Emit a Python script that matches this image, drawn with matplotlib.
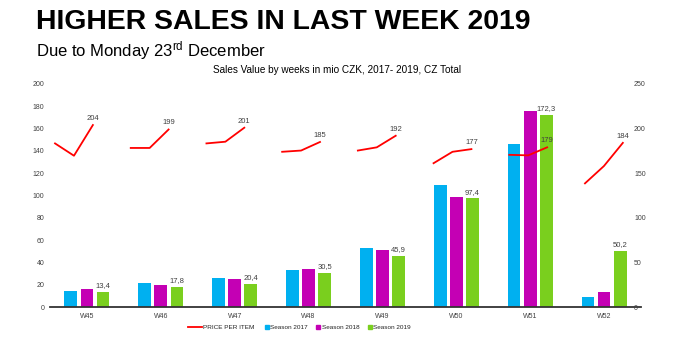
import matplotlib
matplotlib.use("Agg")
import matplotlib.pyplot as plt
from matplotlib.lines import Line2D
import numpy as np

plt.rcParams["font.family"] = ["Liberation Sans", "DejaVu Sans"]
plt.rcParams["mathtext.default"] = "regular"

weeks = ["W45", "W46", "W47", "W48", "W49", "W50", "W51", "W52"]
sales_2017 = [14.0, 21.2, 26.0, 32.8, 52.6, 109.0, 146.2, 9.0]
sales_2018 = [15.8, 20.0, 25.1, 34.3, 50.8, 98.3, 176.0, 13.7]
sales_2019 = [13.4, 17.8, 20.4, 30.5, 45.9, 97.4, 172.3, 50.2]
# price per item, 2017 / 2018 / 2019 for every week
price = [
    [183.4, 169.6, 204],
    [178.3, 178.3, 199],
    [183.4, 185.3, 201],
    [174.0, 175.4, 185],
    [175.4, 179.0, 192],
    [161.2, 174.0, 177],
    [170.6, 170.0, 179],
    [138.6, 158.0, 184],
]
c17, c18, c19 = "#00B0F0", "#C400B4", "#7ACF1E"
red = "#FF0000"

fig = plt.figure(figsize=(7, 3.45), dpi=100)
ax = fig.add_axes([50 / 700, 38 / 345, 591 / 700, 223 / 345])

x = np.arange(len(weeks))
w = 0.173
off = 0.218
ax.bar(x - off, sales_2017, w, color=c17)
ax.bar(x, sales_2018, w, color=c18)
ax.bar(x + off, sales_2019, w, color=c19)
for xi, v in zip(x, sales_2019):
    ax.text(xi + off, v + 2.5, f"{v:.1f}".replace(".", ","), ha="center", va="bottom",
            fontsize=5.5, color="#404040")

ax.set_xlim(-0.5, len(weeks) - 0.5)
ax.set_ylim(0, 200)
ax.set_yticks(range(0, 201, 20))
ax.set_xticks(x)
ax.set_xticklabels(weeks)
ax.tick_params(length=0, labelsize=5, colors="#404040", pad=4)
for s in ["top", "right", "left"]:
    ax.spines[s].set_visible(False)
ax.spines["bottom"].set_color("#333333")
ax.spines["bottom"].set_linewidth(1.3)

ax2 = ax.twinx()
ax2.set_ylim(0, 250)
ax2.set_yticks(range(0, 251, 50))
ax2.tick_params(length=0, labelsize=5, colors="#404040", pad=-5)
for s in ax2.spines.values():
    s.set_visible(False)

# the price line sits on its own slot grid: 4 slots per week, 3 used
slot = 0.2562
left = -0.56
for i, vals in enumerate(price):
    px = [left + (i * 4 + j + 0.5) * slot for j in range(3)]
    ax2.plot(px, vals, color=red, lw=1.3)
    ax2.text(px[-1], vals[-1] + 3.5, str(vals[-1]), ha="center", va="bottom",
             fontsize=5.5, color="#404040")

fig.text(36 / 700, 1 - 22 / 345, "HIGHER SALES IN LAST WEEK 2019", fontsize=20.4,
         fontweight="bold", va="center", ha="left")
fig.text(36 / 700, 1 - 51 / 345, "Due to Monday 23$^{rd}$ December", fontsize=12,
         va="center", ha="left")
fig.text(337 / 700, 1 - 70 / 345, "Sales Value by weeks in mio CZK, 2017- 2019, CZ Total",
         fontsize=7.2, ha="center", va="center")

leg1 = fig.legend([Line2D([], [], color=red, lw=1.3)], ["PRICE PER ITEM"],
                  loc="center", bbox_to_anchor=(221 / 700, 1 - 327 / 345),
                  frameon=False, fontsize=4.6, handlelength=2.2, handletextpad=0.2,
                  labelcolor="#222222")
squares = [Line2D([], [], marker="s", ls="none", color=c, markersize=2.5)
           for c in (c17, c18, c19)]
fig.legend(squares, ["Season 2017", "Season 2018", "Season 2019"], loc="center",
           bbox_to_anchor=(338 / 700, 1 - 327 / 345), ncol=3, frameon=False,
           fontsize=4.6, handlelength=0.5, handletextpad=0.3, columnspacing=1.4,
           labelcolor="#222222")

fig.savefig("out.png", dpi=100)
